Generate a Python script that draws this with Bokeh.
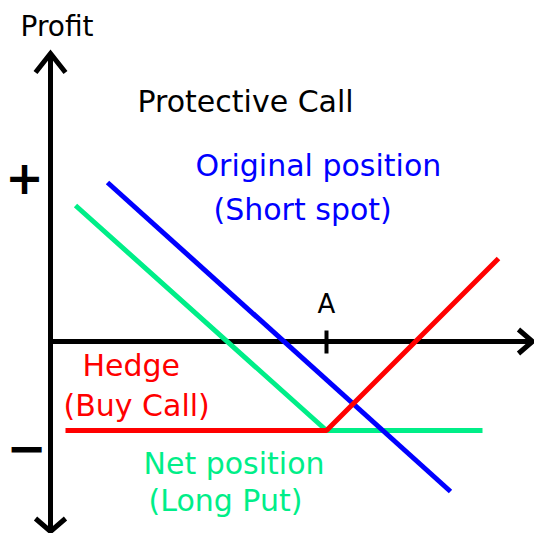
from bokeh.plotting import figure
from bokeh.models import Range1d
from bokeh.core.properties import value
from bokeh.embed import file_html
from bokeh.resources import INLINE

# Payoff sketch of a protective call (price on x, profit on y, origin at the axes' crossing)
strike = 276
strike_label = "A"

spot_price = [57, 400]          # original position: short spot
spot_profit = [159, -150]

hedge_price = [15, strike, 448]  # hedge: bought call
hedge_profit = [-89, -89, 83]

net_price = [25, strike, 432]    # net position: long put
net_profit = [136, -89, -89]

BLUE = "#0000ff"
RED = "#ff0000"
GREEN = "#00ee88"
BLACK = "#000000"
FONT = value("DejaVu Sans")

p = figure(width=534, height=533, output_backend="svg", toolbar_location=None,
           x_range=Range1d(-50, 484), y_range=Range1d(-192, 341),
           x_axis_location=None, y_axis_location=None, min_border=0)
p.grid.visible = False
p.outline_line_color = None
p.background_fill_color = "white"
p.border_fill_color = "white"

# hand-drawn style axes with open arrow heads
axis_w = 5
y_top, y_bot, x_right = 288, -190, 482
p.line([0, 0], [y_bot, y_top], line_color=BLACK, line_width=axis_w)
p.line([0, x_right], [0, 0], line_color=BLACK, line_width=axis_w)
hw, hl = 15, 19
p.line([-hw, 0, hw], [y_top - hl, y_top, y_top - hl], line_color=BLACK, line_width=axis_w, line_join="miter")
p.line([-hw, 0, hw], [y_bot + 13, y_bot, y_bot + 13], line_color=BLACK, line_width=axis_w, line_join="miter")
p.line([x_right - 14, x_right, x_right - 14], [12, 0, -12], line_color=BLACK, line_width=axis_w, line_join="miter")

# strike tick
p.line([strike, strike], [-12, 11], line_color=BLACK, line_width=4)

# payoff lines
p.line(net_price, net_profit, line_color=GREEN, line_width=5)
p.line(spot_price, spot_profit, line_color=BLUE, line_width=5)
p.line(hedge_price, hedge_profit, line_color=RED, line_width=5)

def label(x, y, txt, color, size, align="left", baseline="alphabetic", style="normal"):
    p.text(x=[x], y=[y], text=[txt], text_color=color, text_font=FONT,
           text_font_size=size, text_align=align, text_baseline=baseline,
           text_font_style=style)

label(-30, 315, "Profit", BLACK, "28px")
label(87, 240, "Protective Call", BLACK, "30px")
label(145, 176, "Original position", BLUE, "30px")
label(163, 132, "(Short spot)", BLUE, "30px")
label(32, -24, "Hedge", RED, "30px")
label(13, -64, "(Buy Call)", RED, "30px")
label(93, -122, "Net position", GREEN, "30px")
label(98, -159, "(Long Put)", GREEN, "30px")
label(strike, 38, strike_label, BLACK, "26px", align="center")
label(-26, 165, "+", BLACK, "46px", align="center", baseline="middle", style="bold")
label(-24, -106, "\u2212", BLACK, "48px", align="center", baseline="middle", style="bold")

open("out.html", "w").write(file_html(p, INLINE))
